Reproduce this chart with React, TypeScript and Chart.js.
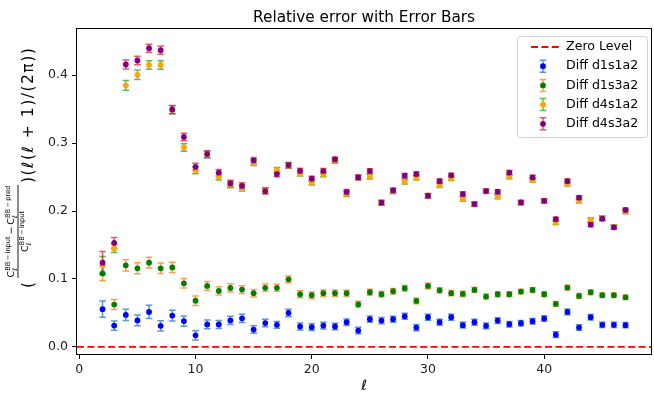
import React, { useEffect, useRef } from 'react';
import { Chart, registerables } from 'chart.js';

Chart.register(...registerables);

// ---------------- data ----------------
const ELL = [2, 3, 4, 5, 6, 7, 8, 9, 10, 11, 12, 13, 14, 15, 16, 17, 18, 19, 20, 21, 22, 23, 24, 25,
  26, 27, 28, 29, 30, 31, 32, 33, 34, 35, 36, 37, 38, 39, 40, 41, 42, 43, 44, 45, 46, 47];

const D1S1A2 = [0.0555, 0.0314, 0.047, 0.039, 0.0515, 0.031, 0.046, 0.038, 0.017, 0.033, 0.033, 0.039,
  0.042, 0.0255, 0.035, 0.0324, 0.05, 0.03, 0.029, 0.0314, 0.03, 0.0363, 0.024, 0.0407, 0.0387, 0.0407,
  0.045, 0.0284, 0.0436, 0.0363, 0.0436, 0.032, 0.0363, 0.031, 0.0387, 0.0333, 0.0348, 0.0377, 0.0417,
  0.018, 0.0515, 0.0284, 0.0436, 0.0324, 0.0324, 0.032];
const D1S1A2_ERR = [0.012, 0.0068, 0.0083, 0.008, 0.0098, 0.0075, 0.008, 0.0075, 0.0068, 0.0065, 0.006,
  0.006, 0.006, 0.0055, 0.0055, 0.005, 0.0055, 0.005, 0.005, 0.005, 0.0048, 0.0048, 0.0048, 0.0046, 0.0046,
  0.0045, 0.0045, 0.0045, 0.0044, 0.0044, 0.0044, 0.0043, 0.0043, 0.0043, 0.0042, 0.0042, 0.0042, 0.0041,
  0.0041, 0.0041, 0.0041, 0.004, 0.004, 0.004, 0.004, 0.004];

const D1S3A2 = [0.108, 0.0623, 0.12, 0.1157, 0.124, 0.1157, 0.117, 0.0936, 0.068, 0.0897, 0.0824, 0.0868,
  0.0843, 0.079, 0.087, 0.087, 0.0995, 0.0775, 0.076, 0.079, 0.079, 0.079, 0.0627, 0.0804, 0.0775, 0.0819,
  0.0863, 0.0676, 0.0897, 0.0833, 0.079, 0.078, 0.0838, 0.074, 0.0775, 0.0775, 0.0814, 0.0838, 0.0775,
  0.0632, 0.0873, 0.075, 0.0804, 0.076, 0.076, 0.073];
const D1S3A2_ERR = [0.0105, 0.0074, 0.0083, 0.008, 0.008, 0.0078, 0.0075, 0.007, 0.007, 0.0065, 0.006,
  0.006, 0.0058, 0.0055, 0.0055, 0.0052, 0.005, 0.005, 0.0048, 0.0047, 0.0046, 0.0045, 0.0044, 0.0043,
  0.0042, 0.0042, 0.0041, 0.004, 0.004, 0.0039, 0.0039, 0.0038, 0.0038, 0.0037, 0.0037, 0.0037, 0.0036,
  0.0036, 0.0036, 0.0035, 0.0035, 0.0035, 0.0035, 0.0034, 0.0034, 0.0034];

const D4S1A2 = [0.12, 0.145, 0.385, 0.4005, 0.415, 0.415, 0.349, 0.2936, 0.26, 0.283, 0.2505, 0.239,
  0.234, 0.2716, 0.23, 0.26, 0.267, 0.2554, 0.242, 0.254, 0.274, 0.225, 0.249, 0.2505, 0.212, 0.229,
  0.243, 0.249, 0.222, 0.238, 0.248, 0.2176, 0.21, 0.229, 0.221, 0.2505, 0.212, 0.2456, 0.215, 0.183,
  0.2397, 0.2147, 0.187, 0.19, 0.176, 0.199];
const D4S1A2_ERR = [0.013, 0.0062, 0.007, 0.007, 0.0062, 0.0062, 0.006, 0.0056, 0.0052, 0.005, 0.0048,
  0.0046, 0.0045, 0.0044, 0.0042, 0.0041, 0.004, 0.0039, 0.0038, 0.0037, 0.0037, 0.0036, 0.0035, 0.0035,
  0.0034, 0.0034, 0.0033, 0.0033, 0.0033, 0.0032, 0.0032, 0.0032, 0.0031, 0.0031, 0.0031, 0.0031, 0.003,
  0.003, 0.003, 0.003, 0.003, 0.003, 0.003, 0.003, 0.003, 0.003];

const D4S3A2 = [0.124, 0.153, 0.4157, 0.4216, 0.4397, 0.4368, 0.3495, 0.309, 0.265, 0.2838, 0.2564,
  0.2407, 0.237, 0.2745, 0.2294, 0.2544, 0.2676, 0.259, 0.2475, 0.2588, 0.276, 0.228, 0.2495, 0.2588,
  0.2123, 0.2304, 0.252, 0.2544, 0.2225, 0.244, 0.2525, 0.225, 0.2103, 0.2294, 0.2284, 0.2564, 0.2127,
  0.2495, 0.215, 0.188, 0.244, 0.2196, 0.18, 0.1887, 0.176, 0.2015];
const D4S3A2_ERR = [0.0165, 0.008, 0.0065, 0.0062, 0.006, 0.006, 0.006, 0.0056, 0.0052, 0.005, 0.0048,
  0.0046, 0.0045, 0.0044, 0.0042, 0.0041, 0.004, 0.0039, 0.0038, 0.0037, 0.0037, 0.0036, 0.0035, 0.0035,
  0.0034, 0.0034, 0.0033, 0.0033, 0.0033, 0.0032, 0.0032, 0.0032, 0.0031, 0.0031, 0.0031, 0.0031, 0.003,
  0.003, 0.003, 0.003, 0.003, 0.003, 0.003, 0.003, 0.003, 0.003];

const SERIES_LABELS = ['Diff d1s1a2', 'Diff d1s3a2', 'Diff d4s1a2', 'Diff d4s3a2'];
const ZERO_LABEL = 'Zero Level';
const ZERO_LEVEL = 0;
const X_TICKS = [0, 10, 20, 30, 40];
const Y_TICKS = [0, 0.1, 0.2, 0.3, 0.4];
const X_MIN = -0.2;
const X_MAX = 49.2;
const Y_MIN = -0.0105;
const Y_MAX = 0.468;
const TITLE = 'Relative error with Error Bars';
const X_LABEL = 'ℓ';

// ---------------- styles ----------------
const FONT = '"DejaVu Sans", sans-serif';
const SERIES = [
  { label: SERIES_LABELS[0], values: D1S1A2, errs: D1S1A2_ERR, color: '#0000ff', ecolor: 'rgba(31,119,180,0.75)' },
  { label: SERIES_LABELS[1], values: D1S3A2, errs: D1S3A2_ERR, color: '#008000', ecolor: 'rgba(255,127,14,0.75)' },
  { label: SERIES_LABELS[2], values: D4S1A2, errs: D4S1A2_ERR, color: '#ffa500', ecolor: 'rgba(44,160,44,0.75)' },
  { label: SERIES_LABELS[3], values: D4S3A2, errs: D4S3A2_ERR, color: '#800080', ecolor: 'rgba(214,39,40,0.75)' },
];
const CAP = 3.3;
const MARKER_R = 2.9;

function drawErrIcon(ctx: CanvasRenderingContext2D, x: number, top: number, bot: number, ecolor: string) {
  ctx.strokeStyle = ecolor;
  ctx.lineWidth = 1.5;
  ctx.beginPath();
  ctx.moveTo(x, top); ctx.lineTo(x, bot);
  ctx.moveTo(x - CAP, top); ctx.lineTo(x + CAP, top);
  ctx.moveTo(x - CAP, bot); ctx.lineTo(x + CAP, bot);
  ctx.stroke();
}

function drawCTerm(ctx: CanvasRenderingContext2D, u: number, v: number, sup: string, base: number) {
  ctx.font = `${base}px ${FONT}`;
  ctx.fillText('C', u, v);
  const w = ctx.measureText('C').width;
  const small = base * 0.7;
  ctx.font = `${small}px ${FONT}`;
  ctx.fillText(sup, u + w, v - base * 0.45);
  const ws = ctx.measureText(sup).width;
  ctx.font = `italic ${small}px ${FONT}`;
  ctx.fillText('ℓ', u + w, v + base * 0.28);
  const wl = ctx.measureText('ℓ').width;
  return w + Math.max(ws, wl);
}

function measureCTerm(ctx: CanvasRenderingContext2D, sup: string, base: number) {
  ctx.font = `${base}px ${FONT}`;
  const w = ctx.measureText('C').width;
  ctx.font = `${base * 0.7}px ${FONT}`;
  const ws = ctx.measureText(sup).width;
  return w + ws;
}

function drawYLabel(ctx: CanvasRenderingContext2D, cy: number) {
  ctx.save();
  const total = 245;
  ctx.translate(0, cy + total / 2);
  ctx.rotate(-Math.PI / 2);
  ctx.fillStyle = '#000';
  ctx.textBaseline = 'alphabetic';
  ctx.textAlign = 'left';
  const mainSize = 15.5;
  const vMain = 33;
  ctx.font = `${mainSize}px ${FONT}`;
  ctx.fillText('(', 0, vMain);
  // fraction
  const base = 9.5;
  const supIn = 'BB\u2009−\u2009input';
  const supPred = 'BB\u2009−\u2009pred';
  const fracStart = 10;
  const fracLen = 93;
  const barV = 18;
  ctx.fillRect(fracStart, barV - 0.45, fracLen, 0.9);
  const t1 = measureCTerm(ctx, supIn, base);
  ctx.font = `${base}px ${FONT}`;
  const minusW = ctx.measureText('\u2009−\u2009').width;
  const t2 = measureCTerm(ctx, supPred, base);
  const numLen = t1 + minusW + t2;
  let u = fracStart + (fracLen - numLen) / 2;
  const vNum = 14;
  u += drawCTerm(ctx, u, vNum, supIn, base);
  ctx.font = `${base}px ${FONT}`;
  ctx.fillText('\u2009−\u2009', u, vNum - 0.5);
  u += minusW;
  drawCTerm(ctx, u, vNum, supPred, base);
  const dLen = measureCTerm(ctx, supIn, base);
  drawCTerm(ctx, fracStart + (fracLen - dLen) / 2, 28, supIn, base);
  // main text
  const mainText = ')(ℓ(ℓ + 1)/(2π))';
  const chars = Array.from(mainText);
  ctx.font = `${mainSize}px ${FONT}`;
  const mStart = fracStart + fracLen + 2;
  const mLen = total - mStart;
  const widths = chars.map((c) => ctx.measureText(c).width);
  const sumW = widths.reduce((a, b) => a + b, 0);
  const extra = Math.max(0, Math.min(1.5, (mLen - sumW) / (chars.length - 1)));
  let mu = mStart;
  chars.forEach((c, i) => {
    ctx.fillText(c, mu, vMain);
    mu += widths[i] + extra;
  });
  ctx.restore();
}

const overlay = {
  id: 'overlay',
  beforeDatasetsDraw(chart: any) {
    const { ctx, chartArea, scales } = chart;
    const x = scales.x;
    const y = scales.y;
    ctx.save();
    ctx.beginPath();
    ctx.rect(chartArea.left, chartArea.top, chartArea.right - chartArea.left, chartArea.bottom - chartArea.top);
    ctx.clip();
    SERIES.forEach((s) => {
      s.values.forEach((v, i) => {
        const px = x.getPixelForValue(ELL[i]);
        const top = y.getPixelForValue(v + s.errs[i]);
        const bot = y.getPixelForValue(v - s.errs[i]);
        drawErrIcon(ctx, px, top, bot, s.ecolor);
      });
    });
    const zy = y.getPixelForValue(ZERO_LEVEL);
    ctx.strokeStyle = '#ff0000';
    ctx.lineWidth = 1.8;
    ctx.setLineDash([7, 3.4]);
    ctx.beginPath();
    ctx.moveTo(chartArea.left, zy);
    ctx.lineTo(chartArea.right, zy);
    ctx.stroke();
    ctx.restore();
  },
  afterDraw(chart: any) {
    const { ctx, chartArea } = chart;
    const { left, right, top, bottom } = chartArea;
    ctx.save();
    // frame
    ctx.strokeStyle = '#000';
    ctx.lineWidth = 1;
    ctx.strokeRect(Math.round(left) - 0.5, Math.round(top) - 0.5, Math.round(right) - Math.round(left) + 1, Math.round(bottom) - Math.round(top) + 1);
    // title
    ctx.fillStyle = '#000';
    ctx.font = `15.3px ${FONT}`;
    ctx.textAlign = 'center';
    ctx.textBaseline = 'alphabetic';
    ctx.fillText(TITLE, (left + right) / 2, 22);
    // x label
    ctx.font = `italic 14px ${FONT}`;
    ctx.fillText(X_LABEL, (left + right) / 2, 390);
    // y label
    drawYLabel(ctx, (top + bottom) / 2 - 26);
    // legend
    const lx = 517, ly = 36, lw = 130, lh = 101;
    ctx.beginPath();
    ctx.roundRect(lx + 0.5, ly + 0.5, lw, lh, 3);
    ctx.fillStyle = 'rgba(255,255,255,0.8)';
    ctx.fill();
    ctx.strokeStyle = '#d0d0d0';
    ctx.lineWidth = 1;
    ctx.stroke();
    const rowY = (k: number) => 47 + k * 19.2;
    ctx.strokeStyle = '#ff0000';
    ctx.lineWidth = 1.8;
    ctx.setLineDash([7, 3.4]);
    ctx.beginPath();
    ctx.moveTo(531, rowY(0));
    ctx.lineTo(560, rowY(0));
    ctx.stroke();
    ctx.setLineDash([]);
    SERIES.forEach((s, k) => {
      const cy = rowY(k + 1);
      drawErrIcon(ctx, 543, cy - 6, cy + 6, s.ecolor);
      ctx.fillStyle = s.color;
      ctx.beginPath();
      ctx.arc(543, cy, MARKER_R, 0, Math.PI * 2);
      ctx.fill();
    });
    ctx.fillStyle = '#000';
    ctx.font = `12.6px ${FONT}`;
    ctx.textAlign = 'left';
    ctx.textBaseline = 'middle';
    ctx.fillText(ZERO_LABEL, 566, rowY(0));
    SERIES.forEach((s, k) => ctx.fillText(s.label, 566, rowY(k + 1)));
    ctx.restore();
  },
};

export default function App() {
  const ref = useRef<HTMLCanvasElement | null>(null);
  useEffect(() => {
    if (!ref.current) return;
    const tickFont = { family: FONT, size: 12.5 };
    const chart = new Chart(ref.current, {
      type: 'scatter',
      data: {
        datasets: SERIES.map((s, k) => ({
          label: s.label,
          data: ELL.map((e, i) => ({ x: e, y: s.values[i] })),
          pointRadius: MARKER_R,
          pointHoverRadius: MARKER_R,
          pointBorderWidth: 0,
          backgroundColor: s.color,
          borderColor: s.color,
          showLine: false,
          order: SERIES.length - k,
        })),
      },
      options: {
        responsive: false,
        animation: false,
        events: [],
        layout: { padding: { top: 29, right: 1.5, left: 0, bottom: 0 } },
        plugins: {
          legend: { display: false },
          title: { display: false },
          tooltip: { enabled: false },
        },
        scales: {
          x: {
            type: 'linear',
            min: X_MIN,
            max: X_MAX,
            afterFit: (s: any) => { s.height = 39; },
            afterBuildTicks: (s: any) => { s.ticks = X_TICKS.map((v) => ({ value: v })); },
            grid: { drawOnChartArea: false, drawTicks: true, tickLength: 5, color: '#000', lineWidth: 1 },
            border: { display: false },
            ticks: { font: tickFont, color: '#222', padding: 3, maxRotation: 0, autoSkip: false, callback: (v: any) => String(v) },
          },
          y: {
            type: 'linear',
            min: Y_MIN,
            max: Y_MAX,
            afterFit: (s: any) => { s.width = 77; },
            afterBuildTicks: (s: any) => { s.ticks = Y_TICKS.map((v) => ({ value: v })); },
            grid: { drawOnChartArea: false, drawTicks: true, tickLength: 5, color: '#000', lineWidth: 1 },
            border: { display: false },
            ticks: { font: tickFont, color: '#222', padding: 4, autoSkip: false, callback: (v: any) => Number(v).toFixed(1) },
          },
        },
      },
      plugins: [overlay],
    } as any);
    return () => chart.destroy();
  }, []);
  return (
    <div style={{ position: 'absolute', left: 0, top: 0, width: 654, height: 393, background: '#fff' }}>
      <canvas ref={ref} width={654} height={393} style={{ display: 'block' }} />
    </div>
  );
}
